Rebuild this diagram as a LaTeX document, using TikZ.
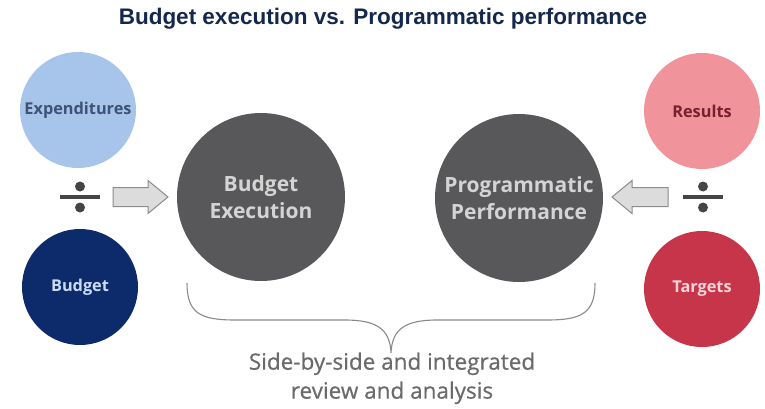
\documentclass[tikz,border=0pt]{standalone}
\usepackage{fontspec}
\setmainfont{Open Sans}
\newfontfamily\titlefont{Liberation Sans}
\newfontfamily\notefont[FakeBold=0.6]{Open Sans}
\usepackage{tikz}
\usetikzlibrary{arrows.meta}
\definecolor{titleblue}{HTML}{14284B}
\definecolor{expblue}{HTML}{A7C4EA}
\definecolor{exptext}{HTML}{3F5272}
\definecolor{budnavy}{HTML}{0D2B6B}
\definecolor{discgray}{HTML}{58585A}
\definecolor{respink}{HTML}{F0939B}
\definecolor{tarred}{HTML}{C7354A}
\definecolor{arrowfill}{HTML}{DCDCDC}
\definecolor{arrowline}{HTML}{8C8C8C}
\definecolor{bracegray}{HTML}{8A8A8A}
\definecolor{notegray}{HTML}{6A6A6A}
\definecolor{signgray}{HTML}{454545}
\tikzset{
    bigdisc/.style={circle, fill=discgray, minimum size=168, inner sep=0,
        align=center, text=black!17, font=\bfseries\fontsize{21}{27}\selectfont},
    smalldisc/.style={circle, minimum size=116, inner sep=0,
        font=\bfseries\fontsize{16.3}{19}\selectfont},
    blockarrow/.style={draw=arrowline, fill=arrowfill, line width=1},
}

\begin{document}
\begin{tikzpicture}[x=1pt, y=1pt]
        \useasboundingbox (0,0) rectangle (765,408);

        \node[font=\titlefont\bfseries\fontsize{22.5}{26}\selectfont, text=titleblue] (title) at (383,389) {Budget execution vs. Programmatic performance};

        \node[smalldisc, fill=expblue, text=exptext] (exp) at (78,298) {Expenditures};
        \node[smalldisc, fill=budnavy, text=expblue!60!white] (bud) at (80,121) {Budget};
        \node[smalldisc, fill=respink, text=tarred!60!black] (res) at (702,297) {Results};
        \node[smalldisc, fill=tarred, text=respink!40!white] (tar) at (702,119) {Targets};

        \node[bigdisc] (be) at (261,211) {Budget\\Execution};
        \node[bigdisc] (pp) at (519,210) {Programmatic\\Performance};

        \coordinate (ldiv) at (80,211);
        \coordinate (rdiv) at (703,211);
        \foreach \d in {ldiv, rdiv} {
            \fill[signgray] (\d) +(-20,-1.6) rectangle +(20,1.6);
            \fill[signgray] (\d) +(0,10.5) circle[radius=5] +(0,-10.5) circle[radius=5];
        }

        \coordinate (la) at (113,211);
        \coordinate (ra) at (668,211);
        \draw[blockarrow] (la) ++(0,-9.5) -- ++(35,0) -- ++(0,-7) -- ++(20,16.5) -- ++(-20,16.5) -- ++(0,-7) -- ++(-35,0) -- cycle;
        \draw[blockarrow] (ra) ++(0,-9.5) -- ++(-36,0) -- ++(0,-7) -- ++(-20,16.5) -- ++(20,16.5) -- ++(0,-7) -- ++(36,0) -- cycle;

        \coordinate (bl) at (187,125);
        \coordinate (br) at (595,125);
        \coordinate (bm) at (391,55);
        \draw[bracegray, line width=1.1] (bl) .. controls (187,95) and (200,88) .. (235,88) -- (345,88)
            .. controls (378,88) and (390,78) .. (bm)
            .. controls (392,78) and (404,88) .. (437,88) -- (547,88)
            .. controls (582,88) and (595,95) .. (br);

        \node[text=notegray, align=center, font=\notefont\fontsize{22.5}{29}\selectfont, anchor=north] (note) at (392,59) {Side-by-side and integrated\\review and analysis};
    \end{tikzpicture}
\end{document}
